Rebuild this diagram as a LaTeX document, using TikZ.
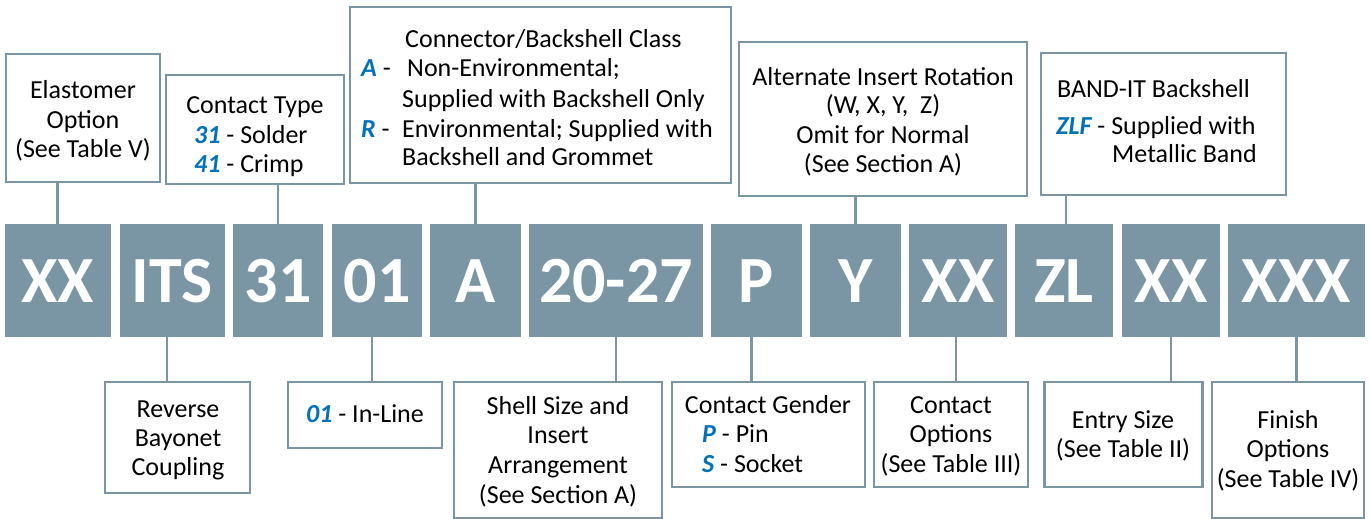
\documentclass[tikz,border=0pt]{standalone}
\usepackage{fontspec}
\setmainfont{Carlito}
\definecolor{steel}{RGB}{122,150,164}
\definecolor{codeblue}{RGB}{0,114,188}
\newcommand\hl[1]{{\color{codeblue}\bfseries\itshape #1}}
\begin{document}
\begin{tikzpicture}[x=1pt,y=-1pt,
  code/.style={fill=steel, draw=none, inner sep=0pt, text=white, minimum height=113pt,
    text height=43pt, text depth=0pt, font=\fontsize{66}{66}\selectfont\bfseries},
  box/.style={draw=steel, line width=2.6pt, fill=white, inner sep=0pt},
  txt/.style={font=\fontsize{26}{29}\selectfont, inner sep=0pt},
  link/.style={draw=steel, line width=2.6pt}]
\useasboundingbox (0,0) rectangle (1370,519);
% code row
\node[code, minimum width=106pt] (c1) at (57.6,280.5) {XX};
\node[code, minimum width=105pt] (c2) at (172,280.5) {ITS};
\node[code, minimum width=90pt] (c3) at (278,280.5) {31};
\node[code, minimum width=90pt] (c4) at (377,280.5) {01};
\node[code, minimum width=90.5pt] (c5) at (475.25,280.5) {A};
\node[code, minimum width=174pt] (c6) at (616,280.5) {20-27};
\node[code, minimum width=91pt] (c7) at (756.5,280.5) {P};
\node[code, minimum width=91pt] (c8) at (855.5,280.5) {Y};
\node[code, minimum width=98pt] (c9) at (958,280.5) {XX};
\node[code, minimum width=98pt] (c10) at (1064,280.5) {ZL};
\node[code, minimum width=98pt] (c11) at (1171,280.5) {XX};
\node[code, minimum width=137pt] (c12) at (1296.5,280.5) {XXX};
% top boxes
\node[box, minimum width=154pt, minimum height=128pt] (b1) at (83,118) {};
\node[box, minimum width=178pt, minimum height=109pt] (b2) at (255,129.5) {};
\node[box, minimum width=381pt, minimum height=176pt] (b3) at (540.5,95) {};
\node[box, minimum width=288pt, minimum height=154pt] (b4) at (883,119) {};
\node[box, minimum width=245pt, minimum height=142pt] (b5) at (1163.5,124) {};
% bottom boxes
\node[box, minimum width=145pt, minimum height=111pt] (b6) at (177.5,437.5) {};
\node[box, minimum width=154pt, minimum height=66pt] (b7) at (365,415) {};
\node[box, minimum width=208pt, minimum height=136pt] (b8) at (558,450) {};
\node[box, minimum width=193pt, minimum height=105pt] (b9) at (768.5,434.5) {};
\node[box, minimum width=154pt, minimum height=105pt] (b10) at (951,434.5) {};
\node[box, minimum width=158pt, minimum height=105pt] (b11) at (1123.5,434.5) {};
\node[box, minimum width=152pt, minimum height=136pt] (b12) at (1288,450) {};
% connectors
\draw[link] (c1.north) -- (c1.north |- b1.south);
\draw[link] (c3.north) -- (c3.north |- b2.south);
\draw[link] (c5.north) -- (c5.north |- b3.south);
\draw[link] (c8.north) -- (c8.north |- b4.south);
\draw[link] ([xshift=2pt]c10.north) -- ([xshift=2pt]c10.north |- b5.south);
\draw[link] ([xshift=-5pt]c2.south) -- ([xshift=-5pt]c2.south |- b6.north);
\draw[link] ([xshift=-5pt]c4.south) -- ([xshift=-5pt]c4.south |- b7.north);
\draw[link] (c6.south) -- (c6.south |- b8.north);
\draw[link] ([xshift=-5pt]c7.south) -- ([xshift=-5pt]c7.south |- b9.north);
\draw[link] ([xshift=-2pt]c9.south) -- ([xshift=-2pt]c9.south |- b10.north);
\draw[link] (c11.south) -- (c11.south |- b11.north);
\draw[link] (c12.south) -- (c12.south |- b12.north);
% texts box 1
\node[txt, anchor=base] (t1a) at (83,99) {Elastomer};
\node[txt, anchor=base] (t1b) at (83,128) {Option};
\node[txt, anchor=base] (t1c) at (83,157) {(See Table V)};
% box 2
\node[txt, anchor=base] (t2a) at (255,113) {Contact Type};
\node[txt, anchor=base west] (t2b) at (194,143) {\hl{31} - Solder};
\node[txt, anchor=base west] (t2c) at (194,172) {\hl{41} - Crimp};
% box 3
\node[txt, anchor=base west] (t3a) at (405,48) {Connector/Backshell Class};
\node[txt, anchor=base west] (t3b) at (361,77) {\hl{A} -};
\node[txt, anchor=base west] (t3c) at (407,77) {Non-Environmental;};
\node[txt, anchor=base west] (t3d) at (402,107) {Supplied with Backshell Only};
\node[txt, anchor=base west] (t3e) at (361,137) {\hl{R} -};
\node[txt, anchor=base west] (t3f) at (402,137) {Environmental; Supplied with};
\node[txt, anchor=base west] (t3g) at (402,165) {Backshell and Grommet};
% box 4
\node[txt, anchor=base] (t4a) at (883,85) {Alternate Insert Rotation};
\node[txt, anchor=base] (t4b) at (883,113) {(W, X, Y,\ \ Z)};
\node[txt, anchor=base] (t4c) at (883,143) {Omit for Normal};
\node[txt, anchor=base] (t4d) at (883,172) {(See Section A)};
% box 5
\node[txt, anchor=base west] (t5a) at (1057,97) {BAND-IT Backshell};
\node[txt, anchor=base west] (t5b) at (1056,134) {\hl{ZLF} - Supplied with};
\node[txt, anchor=base west] (t5c) at (1112,162) {Metallic Band};
% box 6
\node[txt, anchor=base] (t6a) at (178,417) {Reverse};
\node[txt, anchor=base] (t6b) at (178,446) {Bayonet};
\node[txt, anchor=base] (t6c) at (178,475) {Coupling};
% box 7
\node[txt, anchor=base] (t7a) at (365,422) {\hl{01} - In-Line};
% box 8
\node[txt, anchor=base] (t8a) at (558,414) {Shell Size and};
\node[txt, anchor=base] (t8b) at (558,443) {Insert};
\node[txt, anchor=base] (t8c) at (558,473) {Arrangement};
\node[txt, anchor=base] (t8d) at (558,503) {(See Section A)};
% box 9
\node[txt, anchor=base] (t9a) at (768,413) {Contact Gender};
\node[txt, anchor=base west] (t9b) at (702,442) {\hl{P} - Pin};
\node[txt, anchor=base west] (t9c) at (702,472) {\hl{S} - Socket};
% box 10
\node[txt, anchor=base] (t10a) at (951,413) {Contact};
\node[txt, anchor=base] (t10b) at (951,442) {Options};
\node[txt, anchor=base] (t10c) at (951,472) {(See Table III)};
% box 11
\node[txt, anchor=base] (t11a) at (1123,428) {Entry Size};
\node[txt, anchor=base] (t11b) at (1123,457) {(See Table II)};
% box 12
\node[txt, anchor=base] (t12a) at (1288,428) {Finish};
\node[txt, anchor=base] (t12b) at (1288,457) {Options};
\node[txt, anchor=base] (t12c) at (1288,487) {(See Table IV)};
\end{tikzpicture}
\end{document}
